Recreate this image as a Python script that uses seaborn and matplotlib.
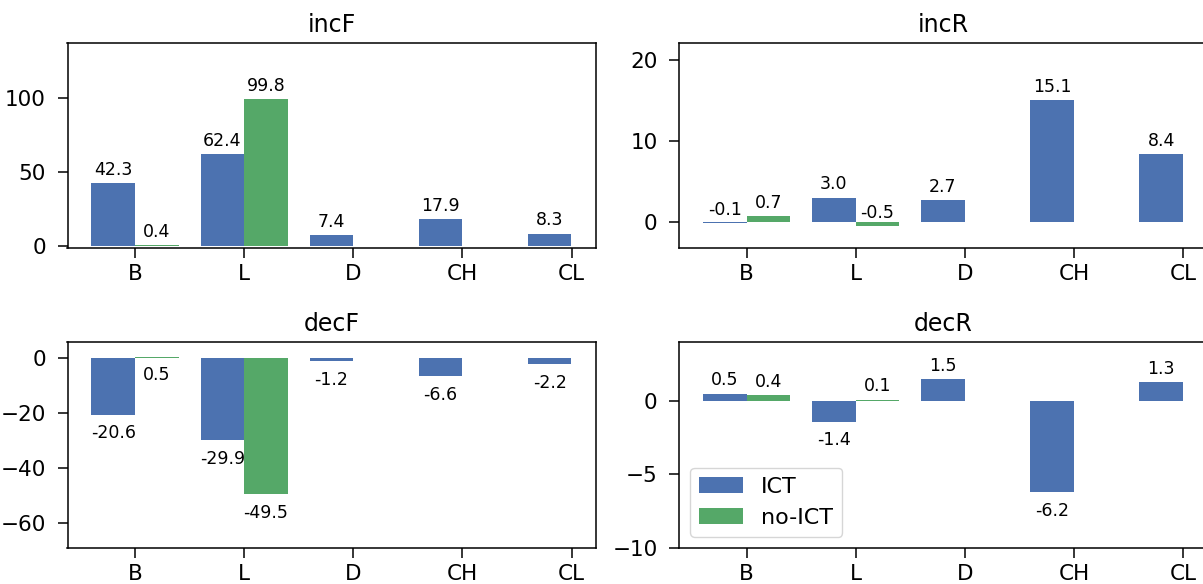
import numpy as np
import pandas as pd
import matplotlib
matplotlib.use("Agg")
import matplotlib.pyplot as plt
from matplotlib.patches import Patch
import seaborn as sns

categories = ["B", "L", "D", "CH", "CL"]
groups = ["ICT", "no-ICT"]

incF_ict = [42.3, 62.4, 7.4, 17.9, 8.3]
incF_noict = [0.4, 99.8, np.nan, np.nan, np.nan]
incR_ict = [-0.1, 3.0, 2.7, 15.1, 8.4]
incR_noict = [0.7, -0.5, np.nan, np.nan, np.nan]
decF_ict = [-20.6, -29.9, -1.2, -6.6, -2.2]
decF_noict = [0.5, -49.5, np.nan, np.nan, np.nan]
decR_ict = [0.5, -1.4, 1.5, -6.2, 1.3]
decR_noict = [0.4, 0.1, np.nan, np.nan, np.nan]

colors = ["#4C72B0", "#55A868"]

W, H = 1203, 584
plt.rcParams.update({
    "axes.linewidth": 1.1,
    "xtick.major.width": 1.1,
    "ytick.major.width": 1.1,
    "xtick.major.size": 7,
    "ytick.major.size": 7,
    "xtick.major.pad": 5.0,
    "ytick.major.pad": 8.5,
    "xtick.labelsize": 15.5,
    "ytick.labelsize": 15.5,
})
fig = plt.figure(figsize=(W / 100, H / 100), dpi=100)


def px_axes(left, top, width, height):
    return fig.add_axes([left / W, 1 - (top + height) / H, width / W, height / H])


AXW = 528.0
panels = [
    ("incF", incF_ict, incF_noict, (67.5, 42.7, AXW, 205.0), (-1.3, 137.8), [0, 50, 100], "above"),
    ("incR", incR_ict, incR_noict, (679.0, 42.7, AXW, 205.0), (-3.2, 22.2), [0, 10, 20], "above"),
    ("decF", decF_ict, decF_noict, (67.5, 342.3, AXW, 205.4), (-69.0, 5.7), [-60, -40, -20, 0], "below"),
    ("decR", decR_ict, decR_noict, (679.0, 342.3, AXW, 205.4), (-10.0, 4.0), [-10, -5, 0], "sign"),
]

for title, ict, noict, rect, ylim, yticks, mode in panels:
    ax = px_axes(*rect)
    df = pd.DataFrame({
        "cat": categories * 2,
        "group": [groups[0]] * len(categories) + [groups[1]] * len(categories),
        "value": list(ict) + list(noict),
    })
    sns.barplot(data=df, x="cat", y="value", hue="group", hue_order=groups,
                order=categories, palette=colors, saturation=1, errorbar=None,
                width=0.8, ax=ax, legend=False, linewidth=0)
    ax.set_xlim(-0.62, 4.22)
    ax.set_ylim(*ylim)
    ax.set_yticks(yticks)
    ax.minorticks_off()
    ax.set_xlabel("")
    ax.set_ylabel("")
    ax.set_title(title, fontsize=17, pad=8)
    for sp in ax.spines.values():
        sp.set_visible(True)
        sp.set_color("black")
    for p in ax.patches:
        h = p.get_height()
        if np.isnan(h):
            continue
        xc = p.get_x() + p.get_width() / 2
        if mode == "above" or (mode == "sign" and h >= 0):
            ax.annotate(f"{h:.1f}", (xc, h), xytext=(0, 3.0), textcoords="offset points",
                        ha="center", va="bottom", fontsize=12.5)
        else:
            ax.annotate(f"{h:.1f}", (xc, h), xytext=(0, -7.0), textcoords="offset points",
                        ha="center", va="top", fontsize=12.5)
    if title == "decR":
        handles = [Patch(facecolor=c, edgecolor="none") for c in colors]
        ax.legend(handles, groups, loc="lower left", fontsize=16, frameon=True)

fig.savefig("out.png", dpi=100)
